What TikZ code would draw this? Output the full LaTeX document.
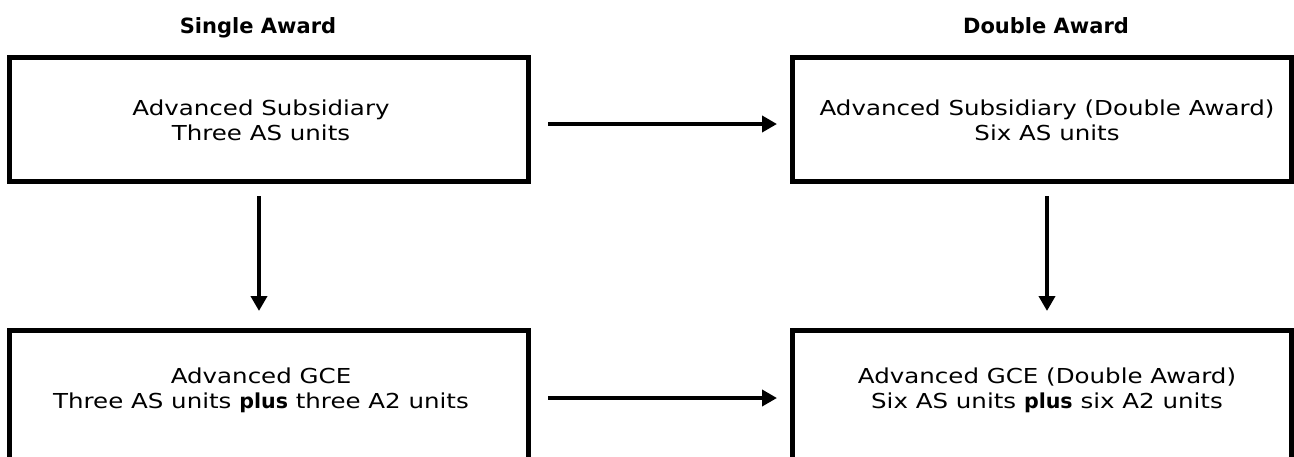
\documentclass[tikz,border=0pt]{standalone}
\usepackage{fontspec}
\setmainfont{DejaVu Sans}[FakeStretch=1.19,BoldFeatures={FakeStretch=1.0}]
\usetikzlibrary{arrows.meta}
\begin{document}
\begin{tikzpicture}[x=1pt,y=-1pt,
  box/.style={draw,line width=5pt,inner sep=0pt,minimum width=#1},
  txt/.style={anchor=base,inner sep=0pt,font=\fontsize{20.6}{25}\selectfont},
  ttl/.style={txt,font=\fontsize{21}{25}\selectfont\bfseries},
  arr/.style={line width=4pt,-{Triangle[length=15pt,width=16pt]}}]
\useasboundingbox[fill=white] (0,0) rectangle (1294,456);
% boxes
\node[box=519pt,minimum height=124pt] (b1) at (269,119) {};
\node[box=499pt,minimum height=124pt] (b2) at (1042,119) {};
\node[box=519pt,minimum height=150pt] (b3) at (269,405) {};
\node[box=499pt,minimum height=150pt] (b4) at (1042,405) {};
% titles
\node[ttl] (h1) at (258,33) {Single Award};
\node[ttl] (h2) at (1046,33) {Double Award};
% texts
\node[txt] (t1a) at (261,115) {Advanced Subsidiary};
\node[txt] (t1b) at (261,140) {Three AS units};
\node[txt] (t2a) at (1047,115) {Advanced Subsidiary (Double Award)};
\node[txt] (t2b) at (1047,140) {Six AS units};
\node[txt] (t3a) at (261,383) {Advanced GCE};
\node[txt] (t3b) at (261,408) {Three AS units \textbf{plus} three A2 units};
\node[txt] (t4a) at (1047,383) {Advanced GCE (Double Award)};
\node[txt] (t4b) at (1047,408) {Six AS units \textbf{plus} six A2 units};
% arrows
\draw[arr] ([shift={(17pt,-5pt)}]b1.east) -- ([shift={(-13pt,-5pt)}]b2.west);
\draw[arr] ([shift={(17pt,7pt)}]b3.east) -- ([shift={(-13pt,7pt)}]b4.west);
\draw[arr] ([shift={(-10pt,-12.5pt)}]b1.south) -- ([shift={(-10pt,16.5pt)}]b3.north);
\draw[arr] ([shift={(5pt,-12.5pt)}]b2.south) -- ([shift={(5pt,16.5pt)}]b4.north);
\end{tikzpicture}
\end{document}
